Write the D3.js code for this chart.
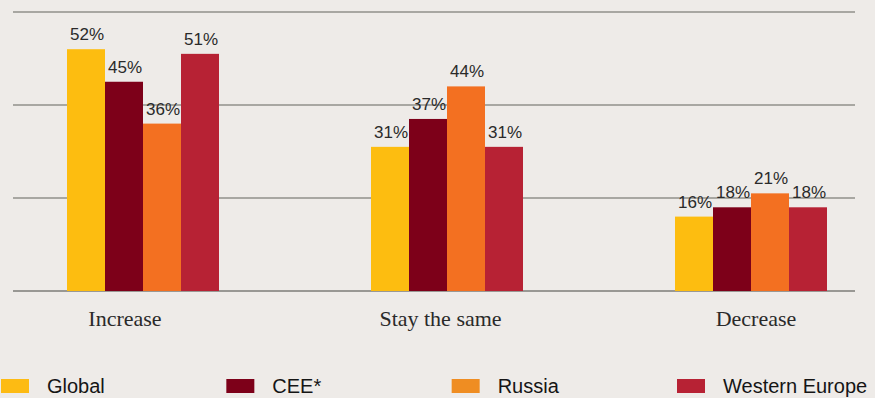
<!DOCTYPE html>
<html>
<head>
<meta charset="utf-8">
<script src="https://cdn.jsdelivr.net/npm/d3@7"></script>
<style>
  body { margin: 0; background: #eeebe8; }
  svg { display: block; }
</style>
</head>
<body>
<div id="chart"></div>
<script>
  var categories = ["Increase", "Stay the same", "Decrease"];
  var series = ["Global", "CEE*", "Russia", "Western Europe"];
  var global = [52, 31, 16],
      cee = [45, 37, 18],
      russia = [36, 44, 21],
      westernEurope = [51, 31, 18];
  var yTicks = [0, 20, 40, 60];

  var barColors = ["#fdbd10", "#7d0019", "#f37021", "#b72234"];
  var legendColors = ["#fdbb13", "#7d0019", "#ef8d22", "#b72234"];

  var values = [global, cee, russia, westernEurope];
  var rows = categories.map((c, i) => ({
    category: c,
    bars: series.map((s, j) => ({ key: s, value: values[j][i], color: barColors[j] }))
  }));

  var width = 875,
      height = 398;

  var svg = d3.select("#chart").append("svg")
      .attr("width", width)
      .attr("height", height);

  svg.append("rect")
      .attr("width", width)
      .attr("height", height)
      .attr("fill", "#eeebe8");

  var x0 = d3.scaleBand()
      .domain(categories)
      .range([-9, 903])
      .paddingInner(0.5)
      .paddingOuter(0.25);

  var x1 = d3.scaleBand()
      .domain(series)
      .range([0, x0.bandwidth()]);

  var xLabel = d3.scalePoint()
      .domain(categories)
      .range([125, 756]);

  var y = d3.scaleLinear()
      .domain([0, 60])
      .range([291, 12]);

  // gridlines
  svg.append("g")
    .selectAll("line")
    .data(yTicks)
    .join("line")
      .attr("x1", 13)
      .attr("x2", 855)
      .attr("y1", d => y(d))
      .attr("y2", d => y(d))
      .attr("stroke", d => d == 0 ? "#7d7d79" : "#90908b")
      .attr("stroke-width", 1.5);

  var groups = svg.append("g")
    .selectAll("g")
    .data(rows)
    .join("g")
      .attr("transform", d => `translate(${x0(d.category)},0)`);

  groups.selectAll("rect")
    .data(d => d.bars)
    .join("rect")
      .attr("x", d => x1(d.key))
      .attr("y", d => y(d.value))
      .attr("width", x1.bandwidth())
      .attr("height", d => y(0) - y(d.value))
      .attr("fill", d => d.color);

  groups.selectAll("text")
    .data(d => d.bars)
    .join("text")
      .attr("x", d => x1(d.key) + x1.bandwidth() / 2 + 1)
      .attr("y", d => y(d.value) - 9)
      .attr("text-anchor", "middle")
      .attr("font-family", "'Liberation Sans', Arial, sans-serif")
      .attr("font-size", "17px")
      .attr("fill", "#2a2a2a")
      .text(d => d.value + "%");

  svg.append("g")
    .selectAll("text")
    .data(categories)
    .join("text")
      .attr("x", d => xLabel(d))
      .attr("y", 326)
      .attr("text-anchor", "middle")
      .attr("font-family", "'Liberation Serif', 'Times New Roman', serif")
      .attr("font-size", "22px")
      .attr("fill", "#2a2a2a")
      .text(d => d);

  // legend
  var legendX = d3.scalePoint()
      .domain(series)
      .range([1, 677]);

  var legend = svg.append("g")
    .selectAll("g")
    .data(series)
    .join("g")
      .attr("transform", d => `translate(${legendX(d)},379)`);

  legend.append("rect")
      .attr("width", 28)
      .attr("height", 14)
      .attr("fill", (d, i) => legendColors[i]);

  legend.append("text")
      .attr("x", 46)
      .attr("y", 14)
      .attr("font-family", "'Liberation Sans', Arial, sans-serif")
      .attr("font-size", "20px")
      .attr("fill", "#151515")
      .text(d => d);
</script>
</body>
</html>
